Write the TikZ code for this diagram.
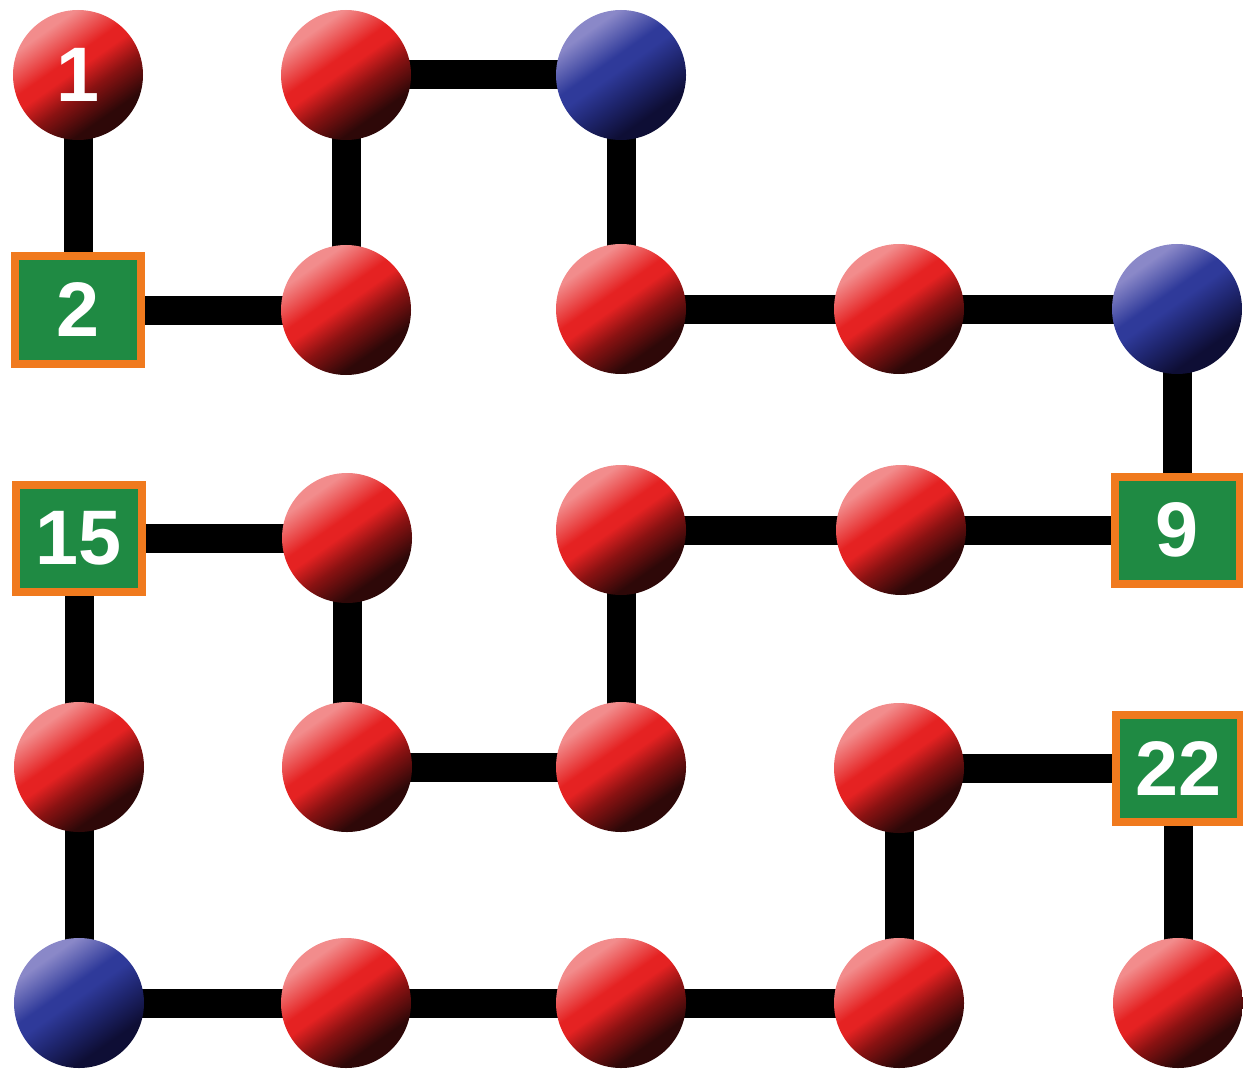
\documentclass[tikz,border=0pt]{standalone}
\usepackage{fontspec}
\setmainfont{Liberation Sans}
\usetikzlibrary{backgrounds}
\definecolor{rdark}{HTML}{2E0808}
\definecolor{rmid}{HTML}{8A1212}
\definecolor{rmain}{HTML}{E52222}
\definecolor{rlight}{HTML}{F28C8C}
\definecolor{bdark}{HTML}{0E0E35}
\definecolor{bmid}{HTML}{1F2670}
\definecolor{bmain}{HTML}{2F3A9A}
\definecolor{blight}{HTML}{8A88C8}
\definecolor{sqgreen}{HTML}{1F8A43}
\definecolor{sqorange}{HTML}{F07A1E}
\pgfdeclareverticalshading{redball}{100bp}{color(0bp)=(rdark); color(31bp)=(rdark); color(43bp)=(rmid); color(52bp)=(rmain); color(57bp)=(rmain); color(71bp)=(rlight); color(100bp)=(rlight)}
\pgfdeclareverticalshading{blueball}{100bp}{color(0bp)=(bdark); color(31bp)=(bdark); color(43bp)=(bmid); color(52bp)=(bmain); color(57bp)=(bmain); color(71bp)=(blight); color(100bp)=(blight)}
\tikzset{
  ball/.style={circle, minimum size=3.9cm, inner sep=0pt, text=white,
    font=\fontsize{66}{66}\selectfont\bfseries},
  redb/.style={ball, shading=redball, shading angle=35},
  blueb/.style={ball, shading=blueball, shading angle=35},
  sq/.style={rectangle, minimum width=3.75cm, minimum height=3.21cm, inner sep=0pt,
    draw=sqorange, line width=0.24cm, fill=sqgreen, text=white,
    font=\fontsize{66}{66}\selectfont\bfseries},
  link/.style={line width=0.87cm, black, line cap=round}
}
\begin{document}
\begin{tikzpicture}[x=0.03cm, y=-0.03cm]
\useasboundingbox (0,0) rectangle (1243,1072);
\node[redb] (n1) at (78,75) {1};
\node[sq] (n2) at (78,310) {2};
\node[redb] (n3) at (346,310) {};
\node[redb] (n4) at (346,75) {};
\node[blueb] (n5) at (621,75) {};
\node[redb] (n6) at (621,309) {};
\node[redb] (n7) at (899,309) {};
\node[blueb] (n8) at (1177,309) {};
\node[sq] (n9) at (1177,530) {9};
\node[redb] (n10) at (901,530) {};
\node[redb] (n11) at (621,530) {};
\node[redb] (n12) at (621,767) {};
\node[redb] (n13) at (347,767) {};
\node[redb] (n14) at (347,538) {};
\node[sq] (n15) at (79,538) {15};
\node[redb] (n16) at (79,767) {};
\node[blueb] (n17) at (79,1003) {};
\node[redb] (n18) at (346,1003) {};
\node[redb] (n19) at (621,1003) {};
\node[redb] (n20) at (899,1003) {};
\node[redb] (n21) at (899,768) {};
\node[sq] (n22) at (1178,768) {22};
\node[redb] (n23) at (1178,1003) {};
\begin{pgfonlayer}{background}
\foreach \a/\b in {1/2,2/3,3/4,4/5,5/6,6/7,7/8,8/9,9/10,10/11,11/12,12/13,13/14,14/15,15/16,16/17,17/18,18/19,19/20,20/21,21/22,22/23}
  \draw[link] (n\a) -- (n\b);
\end{pgfonlayer}
\end{tikzpicture}
\end{document}
